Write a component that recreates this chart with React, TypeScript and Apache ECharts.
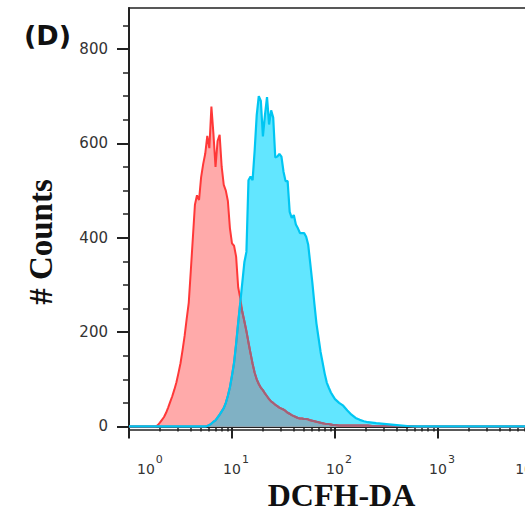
import React, { useEffect, useRef } from "react";
import * as echarts from "echarts";

// Histogram bins (log10 of DCFH-DA fluorescence)
const X_LOG_BINS = [
  0.0, 0.2, 0.22, 0.24, 0.26, 0.28, 0.3, 0.32, 0.34, 0.36,
  0.38, 0.4, 0.42, 0.44, 0.46, 0.48, 0.5, 0.52, 0.54, 0.56,
  0.58, 0.6, 0.62, 0.64, 0.66, 0.68, 0.7, 0.72, 0.74, 0.76,
  0.78, 0.8, 0.82, 0.84, 0.86, 0.88, 0.9, 0.92, 0.94, 0.96,
  0.98, 1.0, 1.02, 1.04, 1.06, 1.08, 1.1, 1.12, 1.14, 1.16,
  1.18, 1.2, 1.22, 1.24, 1.26, 1.28, 1.3, 1.32, 1.34, 1.36,
  1.38, 1.4, 1.42, 1.44, 1.46, 1.48, 1.5, 1.52, 1.54, 1.56,
  1.58, 1.6, 1.62, 1.64, 1.66, 1.68, 1.7, 1.72, 1.74, 1.76,
  1.78, 1.8, 1.82, 1.84, 1.86, 1.88, 1.9, 1.92, 1.94, 1.96,
  1.98, 2.0, 2.04, 2.08, 2.12, 2.16, 2.2, 2.24, 2.28, 2.32,
  2.36, 2.4, 2.5, 2.6, 2.7, 2.8, 2.9, 4.0,
];

// Control (red)
const RED_COUNTS = [
  0, 0, 0, 0, 0, 3, 8, 14, 20, 29,
  40, 52, 64, 78, 93, 113, 134, 162, 192, 228,
  262, 330, 400, 470, 490, 480, 528, 556, 578, 616,
  590, 678, 620, 550, 605, 618, 550, 512, 500, 478,
  420, 388, 383, 360, 295, 272, 243, 223, 202, 178,
  155, 133, 114, 100, 90, 82, 77, 70, 64, 58,
  53, 50, 46, 43, 40, 38, 36, 33, 29, 27,
  24, 22, 20, 18, 17, 17, 16, 16, 15, 13,
  12, 11, 10, 9, 8, 7, 6, 5, 5, 4,
  3, 3, 2, 2, 2, 2, 2, 2, 2, 2,
  1, 1, 1, 1, 1, 0, 0, 0,
];

// Treated (blue)
const BLUE_COUNTS = [
  0, 0, 0, 0, 0, 0, 0, 0, 0, 0,
  0, 0, 0, 0, 0, 0, 0, 0, 0, 0,
  0, 0, 0, 0, 0, 0, 0, 0, 0, 1,
  3, 6, 10, 13, 19, 25, 32, 39, 50, 65,
  83, 108, 135, 175, 220, 262, 305, 348, 370, 522,
  530, 522, 585, 660, 700, 690, 615, 660, 698, 640,
  670, 655, 570, 572, 578, 572, 540, 520, 520, 455,
  442, 448, 428, 420, 410, 410, 410, 402, 385, 345,
  305, 260, 218, 188, 158, 135, 112, 93, 82, 72,
  65, 58, 50, 44, 34, 25, 18, 14, 11, 9,
  8, 7, 5, 3, 1, 0, 0, 0,
];

const Y_MAJOR_TICKS = [0, 200, 400, 600, 800];
const Y_MINOR_TICKS = [50, 100, 150, 250, 300, 350, 450, 500, 550, 650, 700, 750, 850];
const X_MAJOR_TICKS = [1, 10, 100, 1000, 10000];
const X_MINOR_TICKS = [
  2, 3, 4, 5, 6, 7, 8, 9,
  20, 30, 40, 50, 60, 70, 80, 90,
  200, 300, 400, 500, 600, 700, 800, 900,
  2000, 3000, 4000, 5000, 6000, 7000, 8000, 9000,
];

const Y_MIN = -7.5;
const Y_MAX = 887;
const X_MIN = 1;
const X_MAX = 10000;

const AXIS_COLOR = "#222";
const TICK_FONT = "DejaVu Sans";
const TICK_COLOR = "#333";

export default function App() {
  const ref = useRef<HTMLDivElement>(null);

  useEffect(() => {
    document.body.style.margin = "0";
    const chart = echarts.init(ref.current!, null, { renderer: "svg" });
    const xs = X_LOG_BINS.map((l) => Math.pow(10, l));
    const red = xs.map((x, i) => [x, RED_COUNTS[i]]);
    const blue = xs.map((x, i) => [x, BLUE_COUNTS[i]]);
    const overlap = xs.map((x, i) => [x, Math.min(RED_COUNTS[i], BLUE_COUNTS[i])]);

    const lineBase = {
      type: "line",
      symbol: "none",
      showSymbol: false,
      smooth: false,
      xAxisIndex: 0,
      yAxisIndex: 0,
    };

    chart.setOption({
      animation: false,
      backgroundColor: "#fff",
      grid: {
        left: 129,
        top: 8,
        right: -16,
        bottom: 82,
        show: true,
        borderColor: AXIS_COLOR,
        borderWidth: 1.5,
        backgroundColor: "transparent",
        containLabel: false,
        outerBoundsMode: "none",
      },
      xAxis: [
        {
          type: "log",
          logBase: 10,
          min: X_MIN,
          max: X_MAX,
          position: "bottom",
          axisLine: { show: true, lineStyle: { color: AXIS_COLOR, width: 2 } },
          axisTick: {
            show: true,
            inside: false,
            length: 12,
            customValues: X_MAJOR_TICKS,
            lineStyle: { color: AXIS_COLOR, width: 2 },
          },
          axisLabel: {
            show: true,
            customValues: X_MAJOR_TICKS,
            margin: 24,
            alignMinLabel: "left",
            alignMaxLabel: "right",
            formatter: (v: number) => "{b|10}{s|" + Math.round(Math.log10(v)) + "}",
            rich: {
              b: {
                fontFamily: TICK_FONT,
                fontSize: 14,
                color: TICK_COLOR,
                padding: [8, 0, 0, 8],
                verticalAlign: "bottom",
              },
              s: {
                fontFamily: TICK_FONT,
                fontSize: 11,
                color: TICK_COLOR,
                padding: [0, 0, 0, 1],
                verticalAlign: "top",
              },
            },
          },
          splitLine: { show: false },
          minorTick: { show: false },
        },
        {
          type: "log",
          logBase: 10,
          min: X_MIN,
          max: X_MAX,
          position: "bottom",
          offset: 0,
          axisLine: { show: false },
          axisTick: {
            show: true,
            inside: false,
            length: 5,
            customValues: X_MINOR_TICKS,
            lineStyle: { color: AXIS_COLOR, width: 1.5 },
          },
          axisLabel: { show: false },
          splitLine: { show: false },
        },
      ],
      yAxis: [
        {
          type: "value",
          min: Y_MIN,
          max: Y_MAX,
          position: "left",
          axisLine: { show: true, lineStyle: { color: AXIS_COLOR, width: 2 } },
          axisTick: {
            show: true,
            inside: false,
            length: 12,
            customValues: Y_MAJOR_TICKS,
            lineStyle: { color: AXIS_COLOR, width: 2 },
          },
          axisLabel: {
            show: true,
            customValues: Y_MAJOR_TICKS,
            margin: 21,
            fontFamily: TICK_FONT,
            fontSize: 15,
            color: TICK_COLOR,
          },
          splitLine: { show: false },
        },
        {
          type: "value",
          min: Y_MIN,
          max: Y_MAX,
          position: "left",
          offset: 0,
          axisLine: { show: false },
          axisTick: {
            show: true,
            inside: false,
            length: 6,
            customValues: Y_MINOR_TICKS,
            lineStyle: { color: AXIS_COLOR, width: 1.5 },
          },
          axisLabel: { show: false },
          splitLine: { show: false },
        },
      ],
      series: [
        {
          ...lineBase,
          name: "Treated fill",
          data: blue,
          lineStyle: { width: 0, opacity: 0 },
          areaStyle: { color: "#62e6ff", opacity: 1 },
        },
        {
          ...lineBase,
          name: "Control",
          data: red,
          lineStyle: { color: "#ff3838", width: 2 },
          areaStyle: { color: "#ffaaaa", opacity: 1 },
        },
        {
          ...lineBase,
          name: "Overlap",
          data: overlap,
          lineStyle: { color: "#a0627a", width: 2 },
          areaStyle: { color: "#80b1c4", opacity: 1 },
        },
        {
          ...lineBase,
          name: "Treated",
          data: blue,
          lineStyle: { color: "#00c6f2", width: 2.2 },
        },
      ],
      graphic: [
        {
          type: "text",
          x: 24,
          y: 35,
          style: {
            text: "(D)",
            fontFamily: "DejaVu Sans",
            fontWeight: "bold",
            fontSize: 27,
            fill: "#111",
            align: "left",
            verticalAlign: "middle",
            textAlign: "left",
            textVerticalAlign: "middle",
          },
        },
        {
          type: "text",
          x: 41,
          y: 242,
          rotation: Math.PI / 2,
          style: {
            text: "# Counts",
            fontFamily: "Liberation Serif",
            fontWeight: "bold",
            fontSize: 33,
            fill: "#111",
            align: "center",
            verticalAlign: "middle",
            textAlign: "center",
            textVerticalAlign: "middle",
          },
        },
        {
          type: "text",
          x: 341.5,
          y: 494.5,
          style: {
            text: "DCFH-DA",
            fontFamily: "Liberation Serif",
            fontWeight: "bold",
            fontSize: 32,
            fill: "#111",
            align: "center",
            verticalAlign: "middle",
            textAlign: "center",
            textVerticalAlign: "middle",
          },
        },
      ],
    });
    return () => chart.dispose();
  }, []);

  return (
    <div
      ref={ref}
      style={{ position: "absolute", left: 0, top: 0, width: 525, height: 512 }}
    />
  );
}
